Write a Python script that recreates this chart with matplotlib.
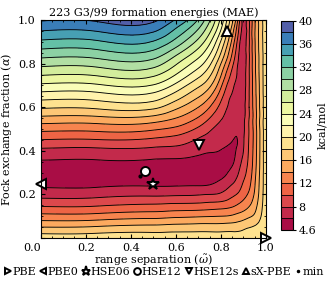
import matplotlib
matplotlib.use("Agg")
import matplotlib.pyplot as plt
import matplotlib.tri as mtri
import numpy as np

plt.rcParams["font.family"] = "DejaVu Serif"
plt.rcParams["font.size"] = 8
plt.rcParams["mathtext.fontset"] = "dejavuserif"

# grid: columns = range separation, rows = Fock fraction
omega = [0.0, 0.25, 0.5, 0.6, 0.7, 0.75, 0.8, 0.85, 0.875, 0.9, 0.925, 0.95, 0.975, 1.0]
alpha = [0.0, 0.05, 0.1, 0.15, 0.2, 0.25, 0.3, 0.35, 0.4, 0.45, 0.5,
         0.55, 0.6, 0.65, 0.7, 0.75, 0.8, 0.85, 0.9, 0.95, 1.0]
mae = [
    [19.3, 19.3, 19.3, 19.3, 19.3, 19.3, 19.3, 19.3, 19.3, 19.3, 19.3, 19.3, 19.3, 19.3],
    [16.0, 16.2, 16.6, 16.8, 16.9, 16.9, 16.9, 17.0, 17.1, 17.5, 17.9, 18.2, 18.7, 19.3],
    [12.7, 12.8, 13.3, 13.6, 13.8, 13.9, 14.0, 14.3, 14.7, 15.1, 15.7, 16.4, 17.8, 19.3],
    [9.7, 9.8, 10.3, 10.5, 10.6, 10.8, 11.0, 11.6, 12.2, 12.9, 13.8, 15.2, 17.2, 19.3],
    [7.2, 7.3, 7.6, 7.7, 7.85, 8.0, 8.3, 9.5, 10.2, 11.2, 12.4, 14.3, 16.8, 19.3],
    [5.45, 5.45, 5.6, 5.6, 5.65, 5.8, 6.6, 7.9, 8.8, 10.2, 11.5, 13.8, 16.6, 19.3],
    [4.9, 4.85, 4.9, 4.9, 4.95, 5.0, 5.2, 6.7, 7.8, 9.3, 10.9, 13.4, 16.45, 19.3],
    [5.8, 5.75, 5.7, 5.6, 5.35, 5.2, 5.1, 5.65, 7.0, 8.6, 10.5, 13.1, 16.35, 19.3],
    [7.5, 7.4, 7.3, 7.2, 6.5, 6.2, 5.9, 5.55, 6.4, 8.0, 10.3, 12.95, 16.3, 19.3],
    [9.95, 9.9, 9.6, 9.1, 7.75, 7.2, 6.8, 6.1, 6.05, 7.8, 10.15, 12.85, 16.3, 19.3],
    [12.6, 12.6, 12.3, 11.5, 9.6, 8.3, 7.3, 6.5, 6.2, 7.6, 10.1, 12.9, 16.35, 19.3],
    [15.5, 15.5, 15.3, 14.0, 11.8, 10.0, 8.2, 6.9, 6.5, 7.5, 10.0, 13.0, 16.4, 19.3],
    [18.3, 18.4, 18.5, 16.5, 14.0, 12.0, 9.3, 7.3, 6.8, 7.4, 10.0, 13.1, 16.45, 19.3],
    [20.9, 21.0, 21.15, 19.0, 16.2, 14.2, 10.7, 7.75, 7.1, 7.3, 9.95, 13.2, 16.5, 19.3],
    [23.6, 23.7, 23.85, 21.5, 18.4, 16.4, 12.4, 8.4, 7.4, 7.3, 9.9, 13.3, 16.6, 19.3],
    [26.2, 26.3, 26.45, 24.0, 20.7, 18.4, 14.2, 9.4, 7.7, 7.2, 9.9, 13.45, 16.7, 19.3],
    [28.7, 28.8, 28.95, 26.25, 22.9, 20.4, 16.0, 10.6, 8.0, 7.2, 9.85, 13.55, 16.75, 19.3],
    [31.2, 31.3, 31.45, 28.7, 25.1, 22.4, 18.0, 12.0, 8.6, 7.2, 9.85, 13.65, 16.8, 19.3],
    [33.6, 33.7, 33.85, 31.3, 27.35, 24.4, 19.8, 13.4, 9.4, 7.2, 9.8, 13.75, 16.9, 19.3],
    [36.0, 36.1, 36.25, 33.5, 29.6, 26.4, 21.8, 14.9, 10.6, 7.2, 9.8, 13.85, 16.95, 19.3],
    [38.2, 38.3, 38.45, 35.8, 31.8, 28.2, 23.4, 16.4, 12.0, 7.2, 9.8, 13.9, 17.0, 19.3],
]
levels = [4.6] + list(range(6, 41, 2))
cbar_ticks = [4.6, 8, 12, 16, 20, 24, 28, 32, 36, 40]

refs = ["PBE", "PBE0", "HSE06", "HSE12", "HSE12s", "sX-PBE", "min"]
ref_omega = [1.0, 0.0, 0.5, 0.464, 0.704, 0.828, 0.441]
ref_alpha = [0.0, 0.25, 0.25, 0.309, 0.425, 0.948, 0.283]
ref_markers = [">", "<", "*", "o", "v", "^", "."]

fig = plt.figure(figsize=(3.29, 2.86), dpi=100)
ax = fig.add_axes([0.1237, 0.1678, 0.6848, 0.7622])
cax = fig.add_axes([0.854, 0.196, 0.0365, 0.732])

W, A = np.meshgrid(omega, alpha)
tri = mtri.Triangulation(W.ravel(), A.ravel())
fine_tri, fine_z = mtri.UniformTriRefiner(tri).refine_field(np.ravel(mae), subdiv=3)
cf = ax.tricontourf(fine_tri, fine_z, levels=levels, cmap="Spectral",
                    vmin=levels[0], vmax=levels[-1], extend="neither")
ax.tricontour(fine_tri, fine_z, levels=levels, colors="k", linewidths=0.65)

handles = []
for name, w, a, m in zip(refs, ref_omega, ref_alpha, ref_markers):
    if m == ".":
        h, = ax.plot(w, a, m, color="k", markersize=4, clip_on=False, label=name)
    else:
        h, = ax.plot(w, a, m, mfc="white", mec="k", mew=1.4,
                     markersize=6.5 if m != "*" else 9, clip_on=False, label=name)
    handles.append(h)

ax.set_xlim(0, 1)
ax.set_ylim(0, 1)
ax.set_xticks(np.arange(0, 1.01, 0.2))
ax.set_yticks(np.arange(0, 1.01, 0.2))
ax.set_xticks(np.arange(0, 1.01, 0.05), minor=True)
ax.set_yticks(np.arange(0, 1.01, 0.05), minor=True)
ax.set_xticklabels(["0.0", "0.2", "0.4", "0.6", "0.8", "1.0"])
ax.set_yticklabels(["", "0.2", "0.4", "0.6", "0.8", "1.0"])
ax.tick_params(which="both", direction="in", top=True, right=True)
ax.tick_params(which="major", length=3)
ax.tick_params(which="minor", length=1.5)
ax.xaxis.get_majorticklabels()[0].set_horizontalalignment("right")
ax.set_xlabel(r"range separation ($\tilde{\omega}$)", labelpad=0)
ax.set_ylabel(r"Fock exchange fraction ($\alpha$)", labelpad=3)
ax.set_title("223 G3/99 formation energies (MAE)", fontsize=8, pad=3)

cb = fig.colorbar(cf, cax=cax, ticks=cbar_ticks, drawedges=True)
cb.ax.set_yticklabels(["4.6"] + [str(t) for t in cbar_ticks[1:]])
cb.ax.tick_params(length=2.5, pad=1.5)
cb.dividers.set_linewidth(0.6)
cb.outline.set_linewidth(0.8)
cb.set_label("kcal/mol", labelpad=1)

fig.legend(handles=handles, loc="center", bbox_to_anchor=(0.5, 0.048), ncol=7,
           frameon=False, handlelength=0.6, handletextpad=0.1, columnspacing=0.35,
           borderpad=0.1, markerscale=0.75, fontsize=8)

fig.savefig("out.png", dpi=100)
